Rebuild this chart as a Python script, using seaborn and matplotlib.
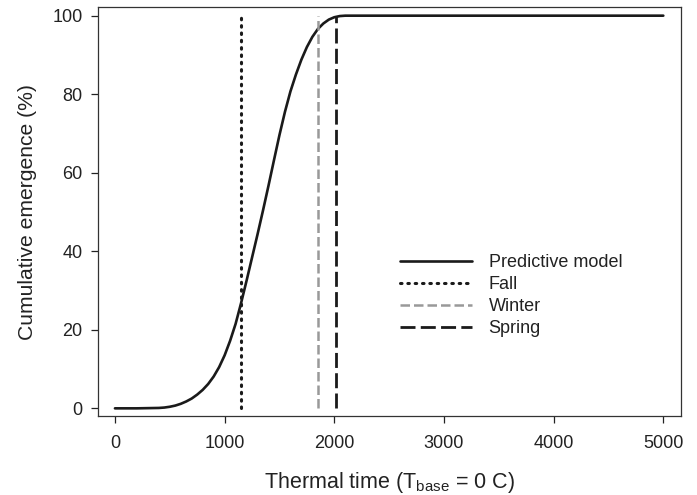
import matplotlib
matplotlib.use("Agg")
import matplotlib.pyplot as plt
import seaborn as sns
import pandas as pd

# Predictive model curve
thermal_time = [0, 100, 200, 300, 400, 450, 500, 550, 600, 650, 700, 750, 800, 850,
                900, 950, 1000, 1050, 1100, 1150, 1200, 1250, 1300, 1350, 1400, 1450,
                1500, 1550, 1600, 1650, 1700, 1750, 1800, 1850, 1900, 1950, 2000, 2050,
                2100, 2500, 5000]
emergence = [0, 0, 0, 0.05, 0.1, 0.2, 0.4, 0.7, 1.15, 1.75, 2.5, 3.5, 4.7, 6.2,
             8.1, 10.5, 13.5, 17.2, 21.5, 26.8, 32.5, 38.4, 44.3, 50.4, 56.7, 63.2,
             69.6, 75.5, 80.7, 85.0, 88.8, 92.0, 94.6, 96.6, 98.0, 99.0, 99.6, 99.9,
             100, 100, 100]

# Observed season totals (vertical lines)
seasons = ["Fall", "Winter", "Spring"]
season_time = [1150, 1850, 2020]

sns.set_theme(style="ticks")
plt.rcParams['font.family'] = ['Liberation Sans', 'DejaVu Sans']
plt.rcParams['mathtext.fontset'] = 'custom'
plt.rcParams['mathtext.rm'] = 'Liberation Sans'

txt = "#222222"
fig = plt.figure(figsize=(6.97, 4.95), dpi=100)
ax = fig.add_axes([0.141, 0.160, 0.836, 0.825])

df = pd.DataFrame({"x": thermal_time, "y": emergence})
sns.lineplot(data=df, x="x", y="y", ax=ax, color="#1a1a1a", lw=1.9,
             label="Predictive model")

styles = {
    "Fall": dict(color="#1a1a1a", linestyle=(0, (0.5, 1.9)), lw=2.2, dash_capstyle="round"),
    "Winter": dict(color="#999999", linestyle=(0, (3.8, 1.6)), lw=1.8),
    "Spring": dict(color="#1a1a1a", linestyle=(0, (5.4, 1.9)), lw=2.0),
}
for name, t in zip(seasons, season_time):
    st = styles[name]
    ax.plot([t, t], [0, 100], label=name, **st)

ax.set_xlim(-152, 5161)
ax.set_ylim(-1.9, 102.1)
ax.set_xticks([0, 1000, 2000, 3000, 4000, 5000])
ax.set_yticks([0, 20, 40, 60, 80, 100])
ax.tick_params(axis="both", labelsize=13, colors=txt, length=4.8, width=0.9)
ax.tick_params(axis="x", pad=9)
ax.tick_params(axis="y", pad=6.5)
for s in ax.spines.values():
    s.set_visible(True)
    s.set_color("#333333")
    s.set_linewidth(0.9)

ax.set_xlabel(r"Thermal time (T$_{\mathrm{base}}$ = 0 C)", fontsize=15.5, color=txt, labelpad=13)
ax.set_ylabel("Cumulative emergence (%)", fontsize=15.2, color=txt, labelpad=11)

leg = ax.legend(loc="upper left", bbox_to_anchor=(0.518, 0.395), frameon=False,
                fontsize=13, handlelength=4.0, handletextpad=0.9,
                labelspacing=0.275, borderaxespad=0, borderpad=0)
for t in leg.get_texts():
    t.set_color(txt)

fig.savefig("out.png", dpi=100)
